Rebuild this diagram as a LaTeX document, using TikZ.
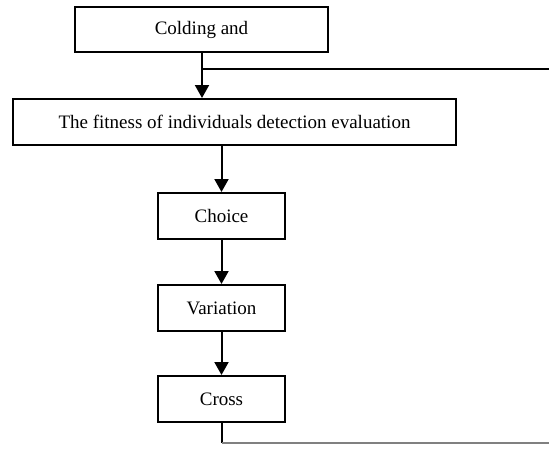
\documentclass[tikz,border=0pt]{standalone}
\usepackage{fontspec}
\setmainfont{Liberation Serif}
\usetikzlibrary{arrows.meta}
\begin{document}
\begin{tikzpicture}[x=1pt,y=-1pt,
  box/.style={draw=black,line width=2pt,inner sep=0pt,font=\fontsize{19}{23}\selectfont},
  conn/.style={line width=2pt,-{Triangle[width=14pt,length=13pt]}},
  plain/.style={line width=2pt}]
\useasboundingbox (0,0) rectangle (549,453);
\node[box,minimum width=253pt,minimum height=45pt] (cod) at (201.5,29.5) {Colding and};
\node[box,minimum width=443pt,minimum height=46pt] (fit) at (234.5,122) {The fitness of individuals detection evaluation};
\node[box,minimum width=127pt,minimum height=46pt] (cho) at (221.5,216) {Choice};
\node[box,minimum width=127pt,minimum height=46pt] (var) at (221.5,308) {Variation};
\node[box,minimum width=127pt,minimum height=46pt] (cro) at (221.5,399) {Cross};
\coordinate (j) at (202,69);
\coordinate (r1) at (549,69);
\coordinate (b1) at (222,443);
\coordinate (r2) at (549,443);
\draw[conn] (cod.south -| j) -- (j |- fit.north);
\draw[plain] (j) -- (r1);
\draw[conn] (cho.north |- fit.south) -- (cho.north);
\draw[conn] (cho) -- (var);
\draw[conn] (var) -- (cro);
\draw[line width=1.4pt] (cro.south -| b1) -- (b1);
\draw[line width=1.4pt,gray] (b1) -- (r2);
\end{tikzpicture}
\end{document}
